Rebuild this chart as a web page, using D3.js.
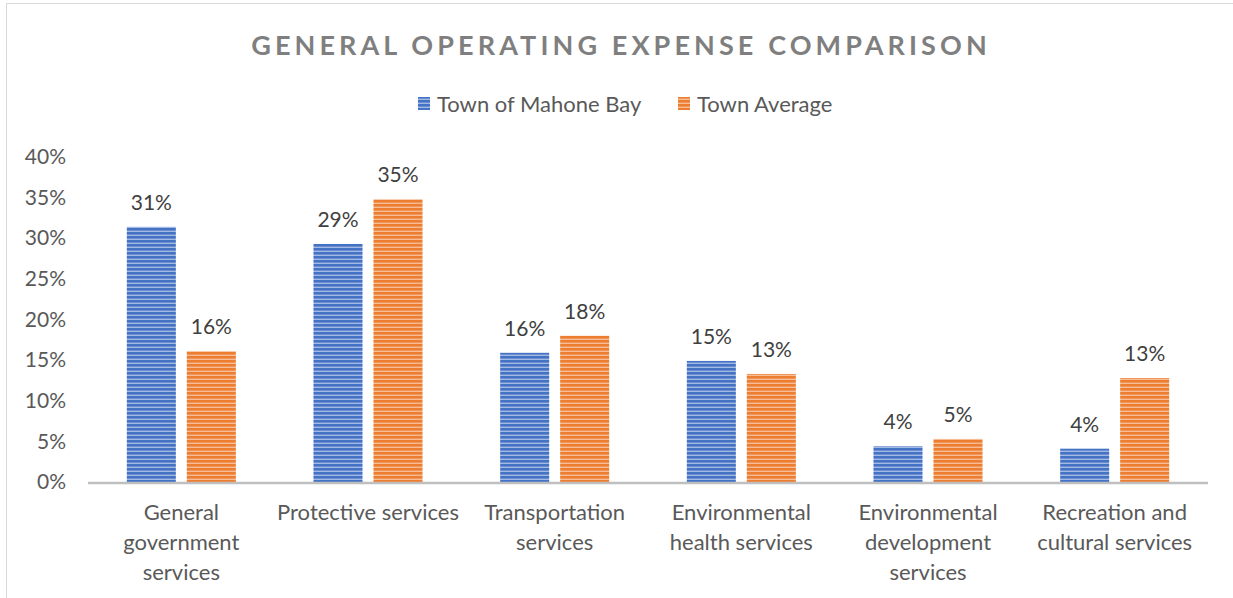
<!DOCTYPE html>
<html>
<head>
<meta charset="utf-8">
<script src="https://cdn.jsdelivr.net/npm/d3@7"></script>
<style>
  body { margin: 0; background: #fff; }
  svg { display: block; font-family: Lato, "Open Sans", sans-serif; }
</style>
</head>
<body>
<svg id="chart"></svg>
<script>
const categories = [
  "General government services",
  "Protective services",
  "Transportation services",
  "Environmental health services",
  "Environmental development services",
  "Recreation and cultural services"
];
// wrapped labels as shown under the axis
const categoryLines = [
  ["General", "government", "services"],
  ["Protective services"],
  ["Transportation", "services"],
  ["Environmental", "health services"],
  ["Environmental", "development", "services"],
  ["Recreation and", "cultural services"]
];
const seriesNames = ["Town of Mahone Bay", "Town Average"];
const mahoneBay = [0.314, 0.293, 0.159, 0.149, 0.044, 0.041];
const townAverage = [0.161, 0.348, 0.180, 0.133, 0.053, 0.128];
const yTicks = [0, 0.05, 0.10, 0.15, 0.20, 0.25, 0.30, 0.35, 0.40];

const width = 1233, height = 598;
const margin = { left: 88, right: 25, top: 157, bottom: 116 };

const svg = d3.select("#chart").attr("width", width).attr("height", height);

const colors = [
  { dark: "#4472c4", light: "#a4b9e4" },
  { dark: "#ed7d31", light: "#f7bd95" }
];

// horizontal stripe fills
const defs = svg.append("defs");
colors.forEach((c, i) => {
  const p = defs.append("pattern")
    .attr("id", "stripe" + i)
    .attr("patternUnits", "userSpaceOnUse")
    .attr("width", 6).attr("height", 4);
  p.append("rect").attr("width", 6).attr("height", 4).attr("fill", c.light);
  p.append("rect").attr("width", 6).attr("height", 2.6).attr("fill", c.dark);
});

// chart frame
svg.append("rect")
  .attr("x", 6.5).attr("y", 3.5)
  .attr("width", width + 10).attr("height", height + 10)
  .attr("fill", "none").attr("stroke", "#d9d9d9");

svg.append("text")
  .attr("x", 621).attr("y", 55)
  .attr("text-anchor", "middle")
  .style("font-size", "27px").style("font-weight", "bold")
  .style("letter-spacing", "4.1px")
  .style("fill", "#7f7f7f")
  .text("GENERAL OPERATING EXPENSE COMPARISON");

const x = d3.scaleBand()
  .domain(categories)
  .range([margin.left, width - margin.right]);

const x1 = d3.scaleBand()
  .domain(seriesNames)
  .range([0, x.bandwidth()])
  .paddingInner(0.183)
  .paddingOuter(0.647);

const y = d3.scaleLinear()
  .domain([0, 0.4])
  .range([height - margin.bottom, margin.top]);

// y tick labels
const yAxis = svg.append("g")
  .attr("transform", `translate(${margin.left},0)`)
  .call(d3.axisLeft(y).tickValues(yTicks).tickFormat(d3.format(".0%")).tickSize(0).tickPadding(22));
yAxis.select(".domain").remove();
yAxis.selectAll("text")
  .style("font-size", "21px")
  .style("font-family", "Lato, sans-serif")
  .style("fill", "#595959");

const allSeries = [mahoneBay, townAverage];

allSeries.forEach((vals, si) => {
  const g = svg.append("g");
  g.selectAll("rect")
    .data(vals)
    .join("rect")
    .attr("x", (d, i) => x(categories[i]) + x1(seriesNames[si]))
    .attr("y", d => y(d))
    .attr("width", x1.bandwidth())
    .attr("height", d => y(0) - y(d))
    .attr("fill", `url(#stripe${si})`);
  g.selectAll("text")
    .data(vals)
    .join("text")
    .attr("x", (d, i) => x(categories[i]) + x1(seriesNames[si]) + x1.bandwidth() / 2)
    .attr("y", d => y(d) - 17)
    .attr("text-anchor", "middle")
    .style("font-size", "21px")
    .style("fill", "#404040")
    .text(d => d3.format(".0%")(d));
});

// x axis line
svg.append("line")
  .attr("x1", margin.left).attr("x2", width - margin.right)
  .attr("y1", y(0) + 1).attr("y2", y(0) + 1)
  .attr("stroke", "#bfbfbf").attr("stroke-width", 2.5);

// category labels
const xl = svg.append("g");
categoryLines.forEach((lines, i) => {
  const t = xl.append("text")
    .attr("x", x(categories[i]) + x.bandwidth() / 2)
    .attr("y", 520)
    .attr("text-anchor", "middle")
    .style("font-size", "22px")
    .style("fill", "#595959");
  lines.forEach((ln, k) => {
    t.append("tspan")
      .attr("x", x(categories[i]) + x.bandwidth() / 2)
      .attr("dy", k === 0 ? 0 : 30)
      .text(ln);
  });
});

// legend
const legendX = [418, 678];
seriesNames.forEach((name, i) => {
  svg.append("rect")
    .attr("x", legendX[i]).attr("y", 97)
    .attr("width", 12).attr("height", 13)
    .attr("fill", `url(#stripe${i})`);
  svg.append("text")
    .attr("x", legendX[i] + 19).attr("y", 112)
    .style("font-size", "22px")
    .style("fill", "#595959")
    .text(name);
});
</script>
</body>
</html>
